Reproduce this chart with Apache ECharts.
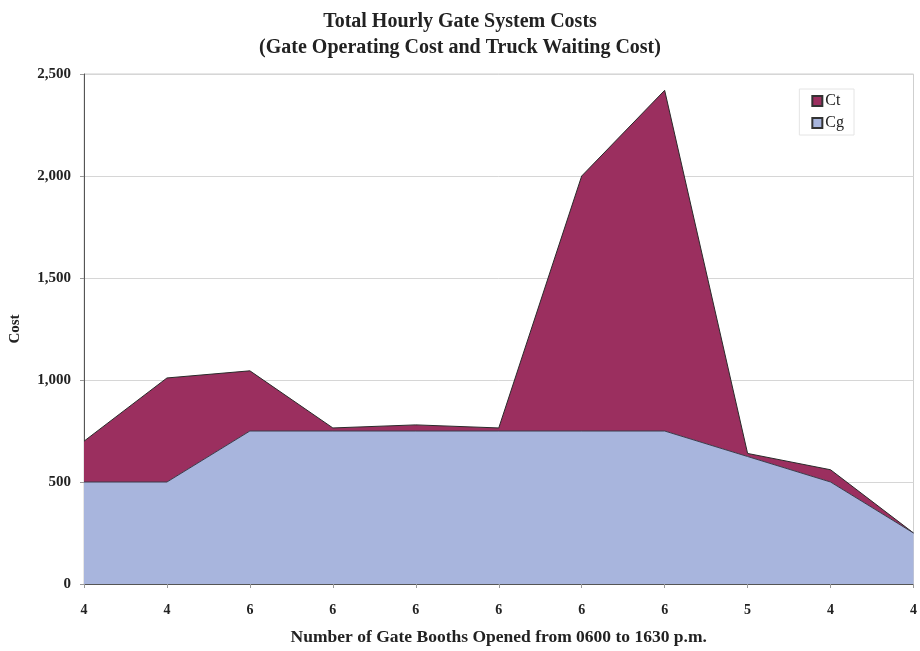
<!DOCTYPE html>
<html>
<head>
<meta charset="utf-8">
<script src="https://cdn.jsdelivr.net/npm/echarts@6/dist/echarts.min.js"></script>
<style>
  html, body { margin: 0; padding: 0; background: #ffffff; }
  #chart { width: 920px; height: 651px; }
</style>
</head>
<body>
<div id="chart"></div>
<script>
// Number of gate booths opened in each period (x-axis categories)
var booths = ['4', '4', '6', '6', '6', '6', '6', '6', '5', '4', '4'];
// Gate operating cost (bottom layer)
var cg = [500, 500, 750, 750, 750, 750, 750, 750, 625, 500, 250];
// Truck waiting cost (stacked on top)
var ct = [200, 510, 295, 15, 30, 15, 1250, 1670, 15, 60, 0];
// Value axis ticks
var yTicks = [0, 500, 1000, 1500, 2000, 2500];

var serif = '"Liberation Serif", "DejaVu Serif", serif';
var chart = echarts.init(document.getElementById('chart'));

chart.setOption({
  animation: false,
  backgroundColor: '#ffffff',
  textStyle: { fontFamily: serif },
  title: {
    text: 'Total Hourly Gate System Costs\n(Gate Operating Cost and Truck Waiting Cost)',
    left: 'center',
    top: 4,
    textStyle: {
      fontFamily: serif, fontSize: 20, fontWeight: 'bold', color: '#222',
      lineHeight: 26
    }
  },
  legend: {
    data: ['Ct', 'Cg'],
    orient: 'vertical',
    right: 66,
    top: 89,
    itemWidth: 10,
    itemHeight: 10,
    itemGap: 6,
    padding: [4, 10, 4, 12],
    backgroundColor: '#ffffff',
    borderColor: '#e4e4e4',
    borderWidth: 1,
    icon: 'rect',
    textStyle: { fontFamily: serif, fontSize: 16, color: '#222', padding: [0, 0, 0, -2] }
  },
  grid: {
    left: 78, right: 0, top: 74, bottom: 59,
    show: true, borderColor: '#cfcfcf', borderWidth: 1, backgroundColor: 'transparent'
  },
  xAxis: {
    type: 'category',
    data: booths,
    boundaryGap: false,
    name: 'Number of Gate Booths Opened from 0600 to 1630 p.m.',
    nameLocation: 'middle',
    nameGap: 44,
    nameTextStyle: { fontFamily: serif, fontSize: 17.5, fontWeight: 'bold', color: '#222' },
    axisLine: { lineStyle: { color: '#555', width: 1 } },
    axisTick: { show: true, length: 4, alignWithLabel: true, lineStyle: { color: '#999' } },
    axisLabel: { fontFamily: serif, fontSize: 14, fontWeight: 'bold', color: '#222', margin: 19 }
  },
  yAxis: {
    type: 'value',
    min: 0,
    max: 2500,
    interval: 500,
    name: 'Cost',
    nameLocation: 'middle',
    nameGap: 61,
    nameRotate: 90,
    nameTextStyle: { fontFamily: serif, fontSize: 15, fontWeight: 'bold', color: '#222' },
    axisLine: { show: true, lineStyle: { color: '#555', width: 1 } },
    axisTick: { show: true, length: 4, lineStyle: { color: '#999' } },
    axisLabel: {
      fontFamily: serif, fontSize: 15, fontWeight: 'bold', color: '#222', margin: 13,
      formatter: function (v) { return yTicks.indexOf(v) >= 0 ? v.toLocaleString('en-US') : ''; }
    },
    splitLine: { show: true, lineStyle: { color: '#d6d6d6', width: 1 } }
  },
  series: [
    {
      name: 'Cg',
      type: 'line',
      stack: 'cost',
      data: cg,
      symbol: 'none',
      lineStyle: { color: '#3a3a4a', width: 1 },
      areaStyle: { color: '#a8b5dd', opacity: 1 },
      itemStyle: { color: '#a8b5dd', borderColor: '#333', borderWidth: 1 },
      z: 3
    },
    {
      name: 'Ct',
      type: 'line',
      stack: 'cost',
      data: ct,
      symbol: 'none',
      lineStyle: { color: '#2a2a2a', width: 1 },
      areaStyle: { color: '#9b2f5f', opacity: 1 },
      itemStyle: { color: '#9b2f5f', borderColor: '#333', borderWidth: 1 },
      z: 2
    }
  ]
});
</script>
</body>
</html>
